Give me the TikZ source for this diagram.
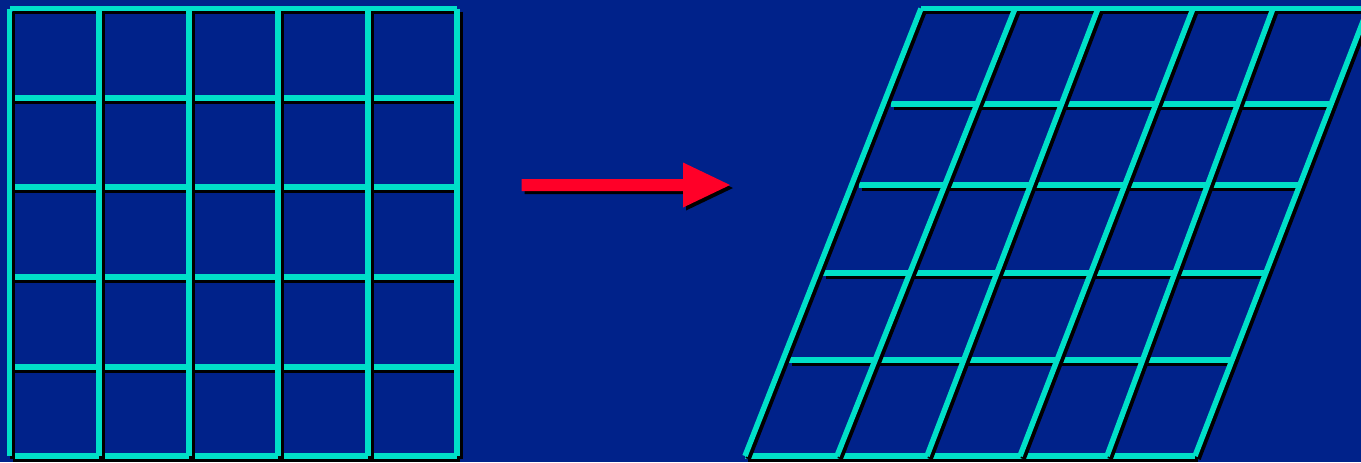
\documentclass[tikz,border=0pt]{standalone}
\definecolor{bgblue}{HTML}{00228A}
\definecolor{gridcyan}{HTML}{00DFC8}
\definecolor{arrowred}{HTML}{FF0028}
\tikzset{
  gridline/.style={draw=gridcyan, line width=2.75pt},
  shadowline/.style={draw=black, line width=2.75pt, shift={(3,3)}},
}
\newcommand\gridseg[2]{\draw[shadowline] #1 -- #2; \draw[gridline] #1 -- #2;}
\begin{document}
\begin{tikzpicture}[x=0.5pt,y=-0.5pt]
\fill[bgblue] (0,0) rectangle (1361,462);
\useasboundingbox (0,0) rectangle (1361,462);
\clip (0,0) rectangle (1361,462);
% left grid: horizontals first, then verticals on top
\foreach \yy in {8.5,98,187,277,367,456} {\gridseg{(9.5,\yy)}{(457,\yy)}}
\foreach \xx in {9.5,99,189,278,368,457} {\gridseg{(\xx,8.5)}{(\xx,456)}}
% right (sheared) grid
\foreach \xa/\xb/\yy in {921/1370/8.5, 891/1331/104, 859/1300/185, 823/1266/273, 789/1230/360, 745/1195/456}
  {\gridseg{(\xa,\yy)}{(\xb,\yy)}}
\foreach \xb/\xt in {745/921, 837/1015, 927/1098, 1020/1193, 1107/1273, 1195/1368}
  {\gridseg{(\xb,456)}{(\xt,8.5)}}
% arrow
\coordinate (a1) at (521.5,179);
\fill[black, shift={(3,3)}] (521.5,179) -- (683,179) -- (683,162.5) -- (730,185) -- (683,207.5) -- (683,191) -- (521.5,191) -- cycle;
\fill[arrowred] (521.5,179) -- (683,179) -- (683,162.5) -- (730,185) -- (683,207.5) -- (683,191) -- (521.5,191) -- cycle;
\end{tikzpicture}
\end{document}
